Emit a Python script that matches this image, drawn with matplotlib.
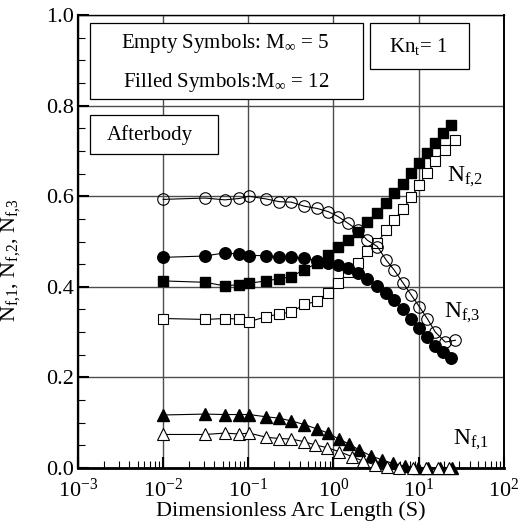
import numpy as np
import matplotlib
matplotlib.use("Agg")
import matplotlib.pyplot as plt
from matplotlib.patches import Rectangle
from matplotlib.ticker import LogLocator, MultipleLocator, NullFormatter

plt.rcParams['font.family'] = ['Liberation Serif', 'DejaVu Serif']
plt.rcParams['mathtext.fontset'] = 'custom'
plt.rcParams['mathtext.rm'] = 'Liberation Serif'
plt.rcParams['mathtext.it'] = 'Liberation Serif:italic'
plt.rcParams['mathtext.default'] = 'regular'

# arc length stations (S)
s_sq = [0.010, 0.031, 0.053, 0.078, 0.102, 0.162, 0.230, 0.318, 0.453, 0.643,
        0.867, 1.135, 1.489, 1.95, 2.49, 3.27, 4.16, 5.16, 6.59, 8.18,
        10.2, 12.6, 15.7, 19.5, 24.2]
s_sq_open = [0.010, 0.031, 0.053, 0.078, 0.102, 0.162, 0.230, 0.318, 0.453, 0.643,
             0.867, 1.135, 1.489, 1.95, 2.49, 3.27, 4.16, 5.16, 6.59, 8.18,
             10.2, 12.6, 15.7, 20.5, 27.0]
s_tri_filled = [0.010, 0.031, 0.053, 0.078, 0.102, 0.162, 0.230, 0.318, 0.453, 0.643,
                0.867, 1.17, 1.53, 1.99, 2.74, 3.70, 4.98, 6.89, 9.86, 12.9, 17.9, 24.8]
s_tri_open = [0.010, 0.031, 0.053, 0.078, 0.102, 0.162, 0.230, 0.318, 0.453, 0.606,
              0.837, 1.17, 1.66, 2.24, 3.10, 4.30, 5.80, 8.47, 12.1, 16.7, 22.5]

# M_inf = 12 (filled)
nf2_m12 = [0.413, 0.410, 0.402, 0.405, 0.408, 0.413, 0.418, 0.422, 0.438, 0.452,
           0.470, 0.489, 0.503, 0.522, 0.544, 0.564, 0.586, 0.608, 0.628, 0.652,
           0.673, 0.695, 0.717, 0.739, 0.757]
nf3_m12 = [0.465, 0.468, 0.475, 0.472, 0.469, 0.469, 0.466, 0.466, 0.463, 0.458,
           0.453, 0.448, 0.441, 0.430, 0.417, 0.402, 0.386, 0.370, 0.350, 0.330,
           0.310, 0.290, 0.270, 0.256, 0.242]
nf1_m12 = [0.117, 0.119, 0.118, 0.118, 0.118, 0.113, 0.110, 0.104, 0.096, 0.086,
           0.077, 0.063, 0.053, 0.040, 0.027, 0.018, 0.010, 0.004, 0.001, 0.000,
           0.000, 0.000]

# M_inf = 5 (empty)
nf2_m5 = [0.330, 0.328, 0.330, 0.329, 0.323, 0.334, 0.340, 0.344, 0.361, 0.368,
          0.387, 0.408, 0.432, 0.453, 0.478, 0.497, 0.525, 0.548, 0.572, 0.598,
          0.625, 0.652, 0.677, 0.702, 0.725]
nf3_m5 = [0.593, 0.596, 0.592, 0.595, 0.600, 0.594, 0.588, 0.587, 0.578, 0.573,
          0.566, 0.555, 0.540, 0.525, 0.503, 0.489, 0.459, 0.437, 0.408, 0.382,
          0.356, 0.330, 0.300, 0.278, 0.282]
nf1_m5 = [0.074, 0.074, 0.077, 0.075, 0.077, 0.068, 0.065, 0.064, 0.058, 0.051,
          0.045, 0.036, 0.025, 0.015, 0.007, 0.002, 0.000, 0.000, 0.000, 0.000,
          0.000]

fig = plt.figure(figsize=(5.18, 5.23), dpi=100)
ax = fig.add_axes([0.1506, 0.1052, 0.822, 0.866])

ax.set_xscale('log')
ax.set_xlim(1e-3, 1e2)
ax.set_ylim(0, 1)

lk = dict(color='black', lw=0.8, clip_on=False, zorder=3)
ax.plot(s_sq, nf2_m12, marker='s', ms=7.2, mfc='black', mec='black', **lk)
ax.plot(s_sq_open, nf2_m5, marker='s', ms=7.2, mfc='white', mec='black', mew=0.8, **lk)
ax.plot(s_sq_open, nf3_m5, marker='o', ms=8.3, mfc='none', mec='black', mew=0.8, **lk)
ax.plot(s_sq, nf3_m12, marker='o', ms=8.3, mfc='black', mec='black', **lk)
ax.plot(s_tri_filled, nf1_m12, marker='^', ms=8.3, mfc='black', mec='black', **lk)
ax.plot(s_tri_open, nf1_m5, marker='^', ms=8.3, mfc='white', mec='black', mew=0.8, **lk)

# grid
ax.grid(True, which='major', color='0.3', lw=1.0)
ax.set_axisbelow(True)

# ticks
ax.xaxis.set_major_locator(LogLocator(base=10, numticks=10))
ax.xaxis.set_minor_locator(LogLocator(base=10, subs=np.arange(2, 10), numticks=20))
ax.xaxis.set_minor_formatter(NullFormatter())
ax.yaxis.set_major_locator(MultipleLocator(0.2))
ax.yaxis.set_minor_locator(MultipleLocator(0.05))
ax.yaxis.set_major_formatter(plt.FuncFormatter(lambda v, p: f'{v:.1f}'))
ax.tick_params(which='major', direction='in', length=8, width=1.5, labelsize=16,
               top=False, right=False)
ax.tick_params(axis='x', which='major', pad=8)
ax.tick_params(axis='y', which='major', pad=3)
ax.tick_params(which='minor', direction='in', length=5, width=0.8, top=False, right=False)

for side, w in [('left', 1.6), ('bottom', 2.0), ('top', 1.0), ('right', 1.4)]:
    ax.spines[side].set_linewidth(w)

ax.set_xlabel('Dimensionless Arc Length (S)', fontsize=16, labelpad=-1)
ax.set_ylabel(r'$\mathregular{N_{f{,}1}}$, $\mathregular{N_{f{,}2}}$, $\mathregular{N_{f{,}3}}$',
              fontsize=16)
ax.yaxis.set_label_coords(-0.132, 0.46)

# annotation boxes
boxes = [(0.028, 0.815, 0.641, 0.167), (0.685, 0.881, 0.233, 0.101), (0.028, 0.693, 0.301, 0.086)]
for x0, y0, w, h in boxes:
    ax.add_patch(Rectangle((x0, y0), w, h, transform=ax.transAxes, facecolor='white',
                           edgecolor='black', lw=0.9, zorder=4))

tk = dict(transform=ax.transAxes, fontsize=15, zorder=5, va='center')
ax.text(0.347, 0.938, r'Empty Symbols: M$_\infty$ = 5', ha='center', **tk)
ax.text(0.347, 0.852, r'Filled Symbols:M$_\infty$ = 12', ha='center', **tk)
ax.text(0.800, 0.930, r'Kn$_\mathregular{t}$= 1', ha='center', **tk)
ax.text(0.169, 0.735, 'Afterbody', ha='center', **tk)

ax.text(0.866, 0.642, r'$\mathregular{N_{f{,}2}}$', transform=ax.transAxes, fontsize=17, va='center')
ax.text(0.859, 0.342, r'$\mathregular{N_{f{,}3}}$', transform=ax.transAxes, fontsize=17, va='center')
ax.text(0.880, 0.062, r'$\mathregular{N_{f{,}1}}$', transform=ax.transAxes, fontsize=17, va='center')

fig.savefig('out.png', dpi=100)
